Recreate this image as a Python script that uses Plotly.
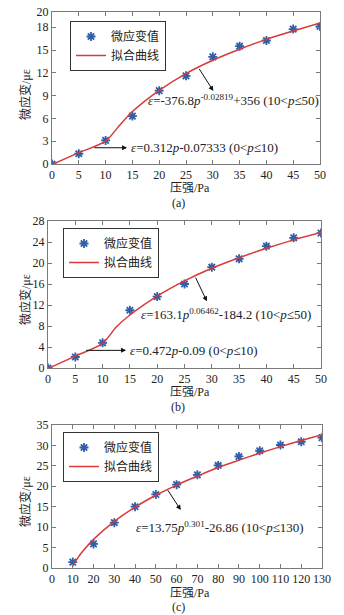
import plotly.graph_objects as go

# ---------------- data ----------------
# (a)
p_a = [0, 5, 10, 15, 20, 25, 30, 35, 40, 45, 50]
e_a = [0.0, 1.35, 3.1, 6.3, 9.65, 11.6, 14.1, 15.5, 16.25, 17.75, 18.1]
fit_p_a = [0, 5, 10, 12.5, 15, 20, 25, 30, 35, 40, 45, 50]
fit_e_a = [-0.07, 1.49, 3.0, 5.0, 6.9, 9.7, 11.9, 13.65, 15.1, 16.4, 17.5, 18.55]
yt_a = [0, 3, 6, 9, 12, 15, 18, 20]
xt_a = [0, 5, 10, 15, 20, 25, 30, 35, 40, 45, 50]

# (b)
p_b = [0, 5, 10, 15, 20, 25, 30, 35, 40, 45, 50]
e_b = [0.0, 2.1, 4.8, 11.0, 13.6, 16.0, 19.2, 20.8, 23.2, 24.8, 25.7]
fit_p_b = [0, 5, 10, 12.5, 15, 20, 25, 30, 35, 40, 45, 50]
fit_e_b = [-0.09, 2.27, 4.7, 7.8, 10.1, 13.7, 16.6, 19.0, 21.0, 22.8, 24.4, 25.8]
yt_b = [0, 4, 8, 12, 16, 20, 24, 28]
xt_b = [0, 5, 10, 15, 20, 25, 30, 35, 40, 45, 50]

# (c)
p_c = [10, 20, 30, 40, 50, 60, 70, 80, 90, 100, 110, 120, 130]
e_c = [1.45, 5.9, 11.1, 15.0, 18.0, 20.4, 22.8, 25.1, 27.3, 28.7, 30.1, 30.9, 31.9]
fit_p_c = [10, 12.5, 15, 20, 30, 40, 50, 60, 70, 80, 90, 100, 110, 120, 130]
fit_e_c = [0.64, 2.55, 4.2, 7.0, 11.4, 14.9, 17.8, 20.3, 22.5, 24.6, 26.4, 28.1, 29.7, 31.2, 32.65]
yt_c = [0, 5, 10, 15, 20, 25, 30, 35]
xt_c = [0, 10, 20, 30, 40, 50, 60, 70, 80, 90, 100, 110, 120, 130]

name_pts = "微应变值"
name_fit = "拟合曲线"
x_title = "压强/Pa"
y_title = "微应变/με"

# ---------------- style ----------------
W, H = 344, 615
FONT = "Liberation Serif, Times New Roman, Noto Sans CJK SC, serif"
BLUE = "#2f5fa8"
RED = "#d83a3a"
FRAME = "#7a7a7a"
TXT = "#222222"

fig = go.Figure()

panels = [
    dict(p=p_a, e=e_a, fp=fit_p_a, fe=fit_e_a, xs="x", ys="y", lg="legend"),
    dict(p=p_b, e=e_b, fp=fit_p_b, fe=fit_e_b, xs="x2", ys="y2", lg="legend2"),
    dict(p=p_c, e=e_c, fp=fit_p_c, fe=fit_e_c, xs="x3", ys="y3", lg="legend3"),
]
for pn in panels:
    fig.add_trace(go.Scatter(
        x=pn["p"], y=pn["e"], mode="markers", name=name_pts,
        marker=dict(symbol="asterisk-open", size=7.5, color=BLUE,
                    line=dict(color=BLUE, width=1.8)),
        xaxis=pn["xs"], yaxis=pn["ys"], legend=pn["lg"]))
    fig.add_trace(go.Scatter(
        x=pn["fp"], y=pn["fe"], mode="lines", name=name_fit,
        line=dict(color=RED, width=1.5, shape="spline", smoothing=0.8),
        xaxis=pn["xs"], yaxis=pn["ys"], legend=pn["lg"]))

TF = dict(family=FONT, size=12, color=TXT)


def xax(dom, anchor, rng, tv):
    return dict(domain=dom, anchor=anchor, range=rng, tickvals=tv,
                showline=True, mirror="ticks", linecolor=FRAME, linewidth=1,
                ticks="inside", ticklen=4, tickcolor=FRAME, showgrid=False,
                zeroline=False, automargin=False, tickfont=TF, tickangle=0)


def yax(dom, anchor, rng, tv):
    return dict(domain=dom, anchor=anchor, range=rng, tickvals=tv,
                showline=True, mirror="ticks", linecolor=FRAME, linewidth=1,
                ticks="inside", ticklen=4, tickcolor=FRAME, showgrid=False,
                zeroline=False, automargin=False, tickfont=TF)


def legend(x, ytop):
    return dict(x=x, y=ytop, xanchor="left", yanchor="top",
                bgcolor="white", bordercolor="#333", borderwidth=1,
                font=dict(family=FONT, size=12, color=TXT),
                itemwidth=30, tracegroupgap=0)


fig.update_layout(
    width=W, height=H, margin=dict(l=0, r=0, t=0, b=0),
    paper_bgcolor="white", plot_bgcolor="white", showlegend=True,
    font=dict(family=FONT, size=13, color=TXT),
    xaxis=xax([52 / W, 320 / W], "y", [0, 50], xt_a),
    yaxis=yax([1 - 164 / H, 1 - 12 / H], "x", [0, 20], yt_a),
    xaxis2=xax([48 / W, 321 / W], "y2", [0, 50], xt_b),
    yaxis2=yax([1 - 368 / H, 1 - 221 / H], "x2", [0, 28], yt_b),
    xaxis3=xax([52 / W, 322 / W], "y3", [0, 130], xt_c),
    yaxis3=yax([1 - 568 / H, 1 - 425 / H], "x3", [0, 35], yt_c),
    legend=legend(70 / W, 1 - 21 / H),
    legend2=legend(63 / W, 1 - 228 / H),
    legend3=legend(63 / W, 1 - 432 / H),
)

afont = dict(family=FONT, size=13, color=TXT)
tfont = dict(family=FONT, size=12, color=TXT)


def arrow(xref, yref, x0, y0, x1, y1):
    fig.add_annotation(x=x1, y=y1, ax=x0, ay=y0, xref=xref, yref=yref,
                       axref=xref, ayref=yref, text="", showarrow=True,
                       arrowhead=2, arrowsize=1, arrowwidth=1, arrowcolor="#111")


def label(xref, yref, x, y, txt, xanchor="left"):
    fig.add_annotation(x=x, y=y, xref=xref, yref=yref, text=txt,
                       showarrow=False, xanchor=xanchor, yanchor="middle",
                       font=afont)


# (a)
arrow("x", "y", 7.6, 2.14, 14.0, 2.14)
label("x", "y", 14.3, 2.14, "<i>ε</i>=0.312<i>p</i>-0.07333 (0&lt;<i>p</i>≤10)")
arrow("x", "y", 27.3, 12.7, 30.1, 9.6)
label("x", "y", 33.9, 8.4,
      "<i>ε</i>=-376.8<i>p</i><sup>-0.02819</sup>+356 (10&lt;<i>p</i>≤50)", "center")
# (b)
arrow("x2", "y2", 6.7, 3.36, 14.3, 3.36)
label("x2", "y2", 14.7, 3.36, "<i>ε</i>=0.472<i>p</i>-0.09 (0&lt;<i>p</i>≤10)")
arrow("x2", "y2", 26.9, 17.5, 29.1, 12.7)
label("x2", "y2", 32.6, 10.2,
      "<i>ε</i>=163.1<i>p</i><sup>0.06462</sup>-184.2 (10&lt;<i>p</i>≤50)", "center")
# (c)
arrow("x3", "y3", 55.3, 19.4, 62.0, 14.2)
label("x3", "y3", 80.8, 10.1,
      "<i>ε</i>=13.75<i>p</i><sup>0.301</sup>-26.86 (10&lt;<i>p</i>≤130)", "center")

# axis titles and panel letters (paper coordinates)
for xt_y, yt_y, letter, let_y in [(188, 95, "(a)", 203),
                                   (392, 300, "(b)", 407),
                                   (593, 502, "(c)", 607)]:
    common = dict(xref="paper", yref="paper", showarrow=False, font=tfont,
                  xanchor="center", yanchor="middle")
    fig.add_annotation(x=190 / W, y=1 - xt_y / H, text=x_title, **common)
    fig.add_annotation(x=25 / W, y=1 - yt_y / H, text=y_title, textangle=-90,
                       **common)
    fig.add_annotation(x=178 / W, y=1 - let_y / H, text=letter, **common)

fig.write_html("out.html", config=dict(displayModeBar=False),
               post_script="document.body.style.margin='0px';"
                           "document.body.style.overflow='hidden';")
